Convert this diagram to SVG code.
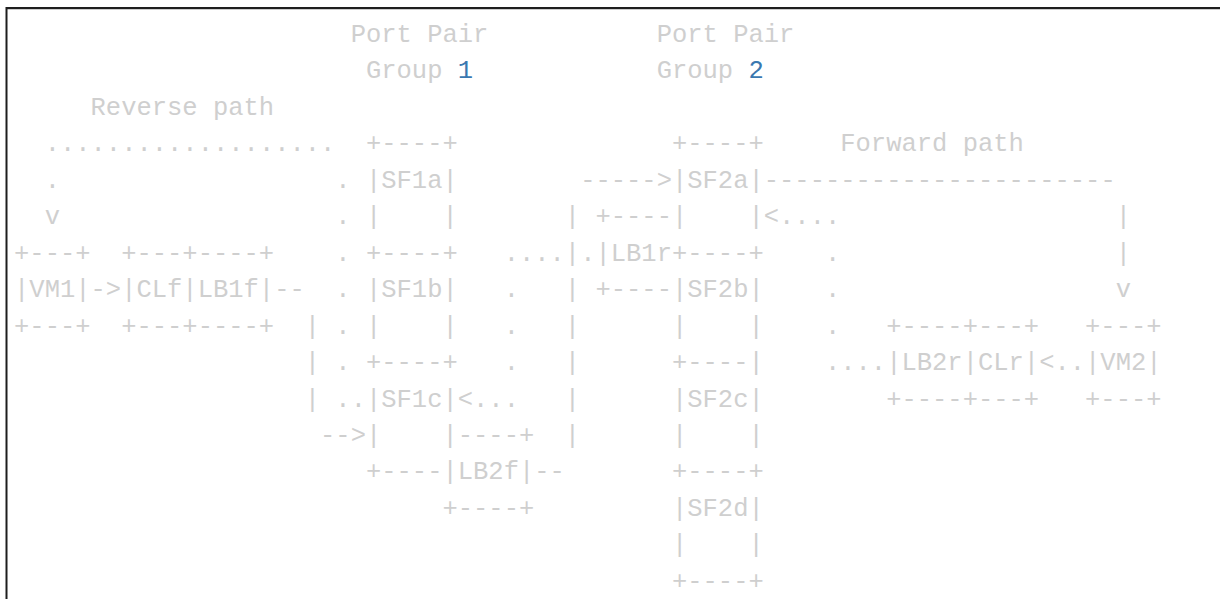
<svg xmlns="http://www.w3.org/2000/svg" width="1220" height="599" viewBox="0 0 1220 599">
<style>
text{font-family:"Liberation Mono","DejaVu Sans Mono",monospace;font-size:25.5px;fill:#cfcfcf;white-space:pre}
.n{fill:#3a78b0}
</style>
<rect x="0" y="0" width="1220" height="599" fill="#ffffff"/>
<g id="frame">
<line x1="6.5" y1="8" x2="1220" y2="8" stroke="#1e1e1e" stroke-width="2"/>
<line x1="6" y1="9.5" x2="1220" y2="9.5" stroke="#cccccc" stroke-width="1"/>
<line x1="6.5" y1="7" x2="6.5" y2="599" stroke="#1e1e1e" stroke-width="2"/>
</g>
<g id="labels">
<text x="350.65" y="42">Port Pair</text>
<text x="656.65" y="42">Port Pair</text>
<text x="365.95" y="78.45">Group <tspan class="n">1</tspan></text>
<text x="656.65" y="78.45">Group <tspan class="n">2</tspan></text>
<text x="90.55" y="114.9">Reverse path</text>
<text x="840.25" y="151.35">Forward path</text>
</g>
<g id="vm1">
<text x="14.05" y="260.7">+---+</text>
<text x="14.05" y="297.15">|VM1|</text>
<text x="14.05" y="333.6">+---+</text>
</g>
<g id="clf-lb1f">
<text x="121.15" y="260.7">+---+----+</text>
<text x="121.15" y="297.15">|CLf|LB1f|</text>
<text x="121.15" y="333.6">+---+----+</text>
</g>
<g id="sf1a">
<text x="365.95" y="151.35">+----+</text>
<text x="365.95" y="187.8">|SF1a|</text>
<text x="365.95" y="224.25">|    |</text>
<text x="365.95" y="260.7">+----+</text>
</g>
<g id="sf1b">
<text x="365.95" y="297.15">|SF1b|</text>
<text x="365.95" y="333.6">|    |</text>
<text x="365.95" y="370.05">+----+</text>
</g>
<g id="sf1c">
<text x="365.95" y="406.5">|SF1c|</text>
<text x="365.95" y="442.95">|    |</text>
<text x="365.95" y="479.4">+----</text>
</g>
<g id="lb2f">
<text x="457.75" y="442.95">----+</text>
<text x="442.45" y="479.4">|LB2f|</text>
<text x="442.45" y="515.85">+----+</text>
</g>
<g id="lb1r">
<text x="595.45" y="224.25">+----</text>
<text x="595.45" y="260.7">|LB1r</text>
<text x="595.45" y="297.15">+----</text>
</g>
<g id="sf2a">
<text x="671.95" y="151.35">+----+</text>
<text x="671.95" y="187.8">|SF2a|</text>
<text x="671.95" y="224.25">|    |</text>
<text x="671.95" y="260.7">+----+</text>
</g>
<g id="sf2b">
<text x="671.95" y="297.15">|SF2b|</text>
<text x="671.95" y="333.6">|    |</text>
<text x="671.95" y="370.05">+----|</text>
</g>
<g id="sf2c">
<text x="671.95" y="406.5">|SF2c|</text>
<text x="671.95" y="442.95">|    |</text>
<text x="671.95" y="479.4">+----+</text>
</g>
<g id="sf2d">
<text x="671.95" y="515.85">|SF2d|</text>
<text x="671.95" y="552.3">|    |</text>
<text x="671.95" y="588.75">+----+</text>
</g>
<g id="lb2r-clr">
<text x="886.15" y="333.6">+----+---+</text>
<text x="886.15" y="370.05">|LB2r|CLr|</text>
<text x="886.15" y="406.5">+----+---+</text>
</g>
<g id="vm2">
<text x="1085.05" y="333.6">+---+</text>
<text x="1085.05" y="370.05">|VM2|</text>
<text x="1085.05" y="406.5">+---+</text>
</g>
<g id="connectors">
<text x="44.65" y="151.35">...................</text>
<text x="44.65" y="187.8">.</text>
<text x="335.35" y="187.8">.</text>
<text x="44.65" y="224.25">v</text>
<text x="335.35" y="224.25">.</text>
<text x="335.35" y="260.7">.</text>
<text x="90.55" y="297.15">-&gt;</text>
<text x="274.15" y="297.15">--</text>
<text x="335.35" y="297.15">.</text>
<text x="304.75" y="333.6">|</text>
<text x="335.35" y="333.6">.</text>
<text x="304.75" y="370.05">|</text>
<text x="335.35" y="370.05">.</text>
<text x="304.75" y="406.5">|</text>
<text x="335.35" y="406.5">..</text>
<text x="457.75" y="406.5">&lt;...</text>
<text x="320.05" y="442.95">--&gt;</text>
<text x="534.25" y="479.4">--</text>
<text x="580.15" y="187.8">-----&gt;</text>
<text x="763.75" y="187.8">-----------------------</text>
<text x="564.85" y="224.25">|</text>
<text x="763.75" y="224.25">&lt;....</text>
<text x="1115.65" y="224.25">|</text>
<text x="503.65" y="260.7">....|.</text>
<text x="824.95" y="260.7">.</text>
<text x="1115.65" y="260.7">|</text>
<text x="503.65" y="297.15">.</text>
<text x="564.85" y="297.15">|</text>
<text x="824.95" y="297.15">.</text>
<text x="1115.65" y="297.15">v</text>
<text x="503.65" y="333.6">.</text>
<text x="564.85" y="333.6">|</text>
<text x="824.95" y="333.6">.</text>
<text x="503.65" y="370.05">.</text>
<text x="564.85" y="370.05">|</text>
<text x="824.95" y="370.05">....</text>
<text x="1039.15" y="370.05">&lt;..</text>
<text x="564.85" y="406.5">|</text>
<text x="564.85" y="442.95">|</text>
</g>
</svg>
